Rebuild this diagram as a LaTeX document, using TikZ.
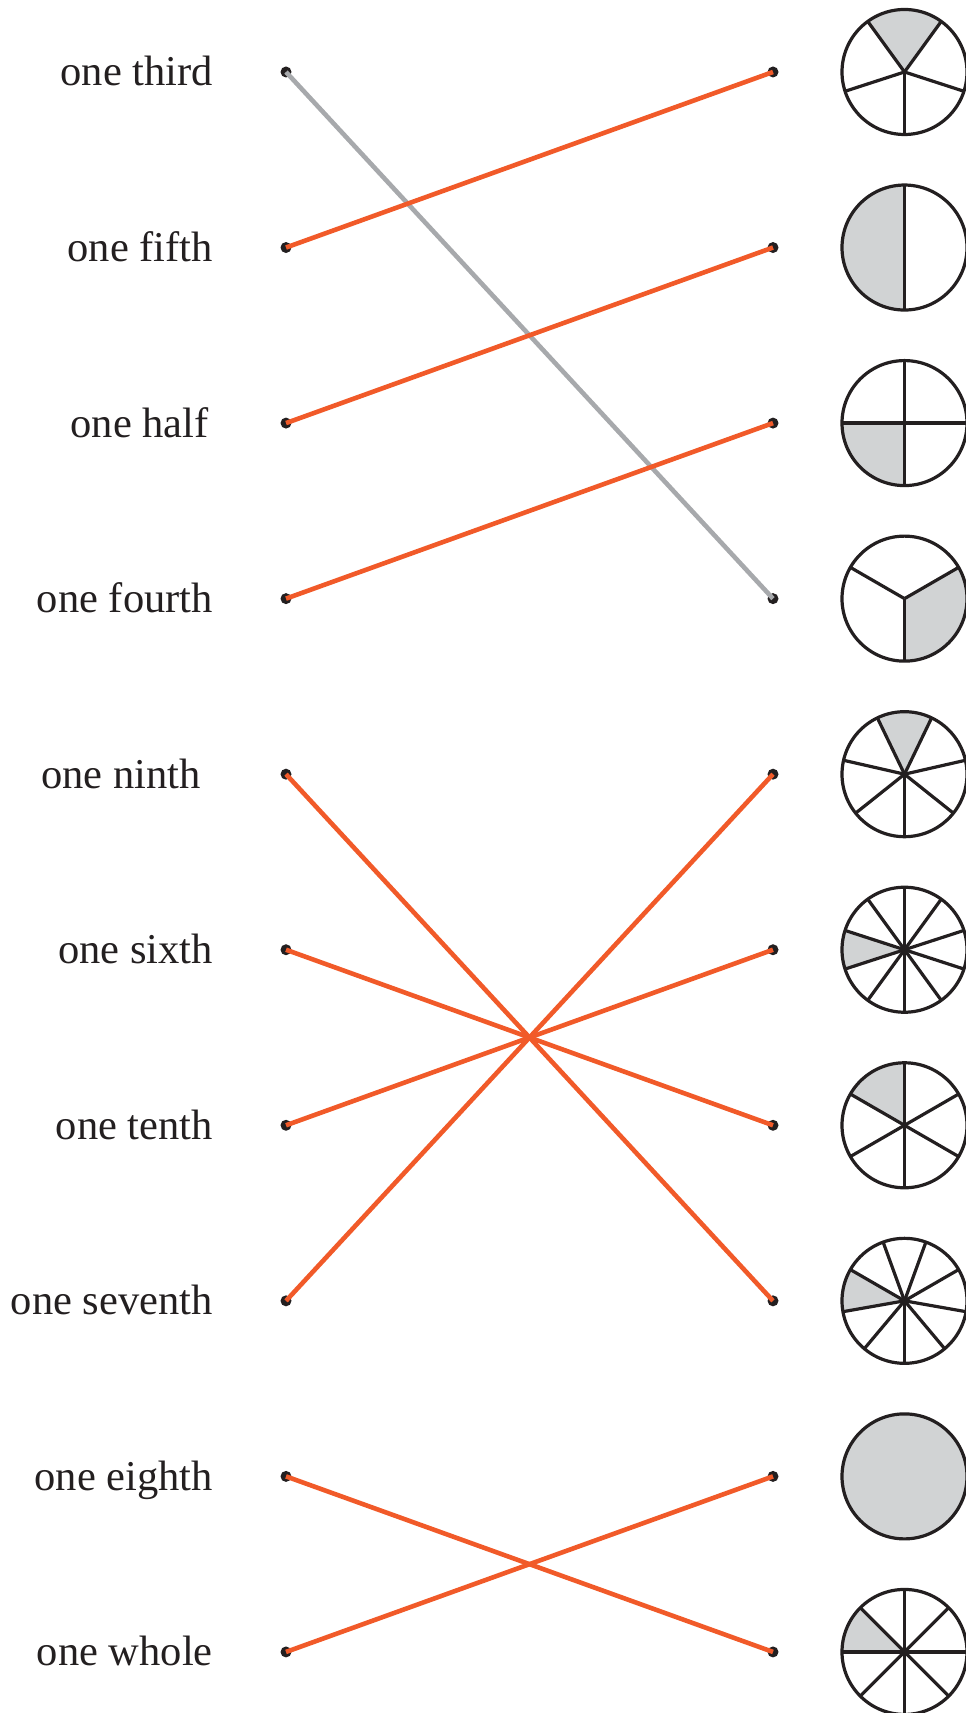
\documentclass[tikz,border=0pt]{standalone}
\usepackage{fontspec}
\setmainfont{Liberation Serif}
\definecolor{linkorange}{HTML}{F15A29}
\definecolor{linkgray}{HTML}{A7A9AC}
\definecolor{piegray}{HTML}{D1D3D4}
\definecolor{inkblack}{HTML}{231F20}
\tikzset{
  word/.style={anchor=base east, inner sep=0pt, font=\fontsize{42.5}{50}\selectfont, text=inkblack},
  enddot/.style={circle, fill=inkblack, inner sep=0pt, minimum size=11pt},
  link/.style={line width=4.6pt, linkorange},
  hint/.style={line width=4.6pt, linkgray},
  pie/.style={line width=3.2pt, draw=inkblack, line join=round},
}
\begin{document}
\begin{tikzpicture}[x=1pt, y=1pt]
\useasboundingbox (0,0) rectangle (966,1713);
% words and dots on the left
\foreach \txt/\xr [count=\i from 0] in {one third/213, one fifth/213, one half/209, one fourth/213, one ninth/201,
    one sixth/213, one tenth/213, one seventh/213, one eighth/213, one whole/213} {
  \node[word] (lab\i) at (\xr, 1627-175.55*\i) {\txt};
  \node[enddot] (L\i) at (286, 1641-175.55*\i) {};
}
% pies on the right: parts / first spoke / shaded from
\foreach \n/\st/\sh [count=\i from 0] in {5/270/54, 2/90/90, 4/0/180, 3/270/-90, 7/270/64.2857,
    10/90/162, 6/90/90, 9/270/150, 1/0/0, 8/0/135} {
  \coordinate (C\i) at (904.5, 1641-175.55*\i);
  \fill[piegray] (C\i) -- ++(\sh:62.5) arc[start angle=\sh, end angle={\sh+360/\n}, radius=62.5] -- cycle;
  \ifnum\n>1
    \foreach \k in {1,...,\n} \draw[pie] (C\i) -- ++({\st+\k*360/\n}:62.5);
  \fi
  \draw[pie] (C\i) circle[radius=62.5];
  \node[enddot] (R\i) at (773, 1641-175.55*\i) {};
}
% example answer
\draw[hint] (L0.center) -- (R3.center);
% matches
\foreach \a/\b in {1/0, 2/1, 3/2, 4/7, 5/6, 6/5, 7/4, 8/9, 9/8}
  \draw[link] (L\a.center) -- (R\b.center);
\end{tikzpicture}
\end{document}
